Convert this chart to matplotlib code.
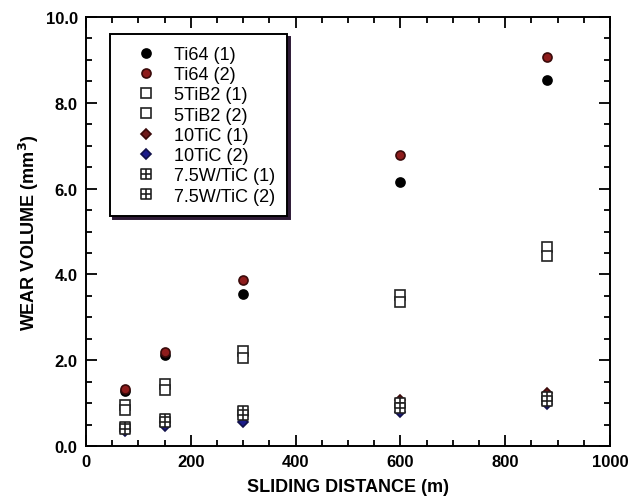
import numpy as np
import matplotlib
matplotlib.use("Agg")
import matplotlib.pyplot as plt
from matplotlib.path import Path
from matplotlib.ticker import MultipleLocator, FormatStrFormatter

plt.rcParams['font.family'] = ['Liberation Sans', 'DejaVu Sans']

# sliding distances (m)
distance = [75, 150, 300, 600, 880]

# wear volume (mm^3) for each alloy / test run
ti64_1 = [1.28, 2.12, 3.55, 6.16, 8.52]
ti64_2 = [1.32, 2.18, 3.86, 6.78, 9.07]
tib2_1 = [0.96, 1.45, 2.22, 3.52, 4.63]
tib2_2 = [0.84, 1.30, 2.04, 3.36, 4.43]
tic_1 = [0.40, 0.55, 0.72, 1.08, 1.23]
tic_2 = [0.35, 0.47, 0.56, 0.80, 0.98]
wtic_1 = [0.45, 0.63, 0.82, 1.00, 1.15]
wtic_2 = [0.40, 0.57, 0.73, 0.88, 1.06]

labels = ["Ti64 (1)", "Ti64 (2)", "5TiB2 (1)", "5TiB2 (2)",
          "10TiC (1)", "10TiC (2)", "7.5W/TiC (1)", "7.5W/TiC (2)"]

# square with a cross inside
boxplus = Path(
    [(-1, -1), (1, -1), (1, 1), (-1, 1), (-1, -1),
     (0, -1), (0, 1), (-1, 0), (1, 0)],
    [Path.MOVETO, Path.LINETO, Path.LINETO, Path.LINETO, Path.CLOSEPOLY,
     Path.MOVETO, Path.LINETO, Path.MOVETO, Path.LINETO])

styles = [
    dict(marker='o', ms=6.5, mfc='black', mec='black'),
    dict(marker='o', ms=6.5, mfc='#8e1c1c', mec='#3a0a0a'),
    dict(marker='s', ms=6.5, mfc='white', mec='#222222'),
    dict(marker='s', ms=6.5, mfc='white', mec='#222222'),
    dict(marker='D', ms=5.5, mfc='#6e1b1b', mec='#3a0a0a'),
    dict(marker='D', ms=5.5, mfc='#1c1c8a', mec='#10104a'),
    dict(marker=boxplus, ms=6.5, mfc='white', mec='#222222'),
    dict(marker=boxplus, ms=6.5, mfc='white', mec='#222222'),
]
series = [ti64_1, ti64_2, tib2_1, tib2_2, tic_1, tic_2, wtic_1, wtic_2]

fig = plt.figure(figsize=(6.31, 5.02), dpi=100)
ax = fig.add_axes([86 / 631, 1 - 447 / 502, 524 / 631, 429 / 502])

for vals, lab, st in zip(series, labels, styles):
    ax.plot(distance, vals, linestyle='none', mew=1.2, label=lab, **st)

ax.set_xlim(0, 1000)
ax.set_ylim(0, 10)
ax.xaxis.set_major_locator(MultipleLocator(200))
ax.xaxis.set_minor_locator(MultipleLocator(50))
ax.yaxis.set_major_locator(MultipleLocator(2))
ax.yaxis.set_minor_locator(MultipleLocator(0.5))
ax.yaxis.set_major_formatter(FormatStrFormatter('%.1f'))
ax.tick_params(which='both', direction='in', top=True, right=True,
               width=1.3, labelsize=12)
ax.tick_params(which='major', length=8, pad=6)
ax.tick_params(which='minor', length=4.5)
for lbl in ax.get_xticklabels() + ax.get_yticklabels():
    lbl.set_fontweight('bold')
for sp in ax.spines.values():
    sp.set_linewidth(1.4)

ax.set_xlabel("SLIDING DISTANCE (m)", fontsize=13, fontweight='bold', labelpad=6)
ax.set_ylabel("WEAR VOLUME (mm$^{\\mathbf{3}}$)", fontsize=13, fontweight='bold', labelpad=3)

leg = ax.legend(loc='upper left', bbox_to_anchor=(0.046, 0.96), borderaxespad=0,
                fontsize=13, frameon=True, fancybox=False, framealpha=1,
                edgecolor='black', labelspacing=0.18, handletextpad=0.2,
                handlelength=2.7, borderpad=0.65,
                shadow={'ox': 2, 'oy': -2, 'color': '#2e1a36', 'alpha': 1})
leg.get_frame().set_linewidth(1.4)

fig.savefig("out.png", dpi=100)
